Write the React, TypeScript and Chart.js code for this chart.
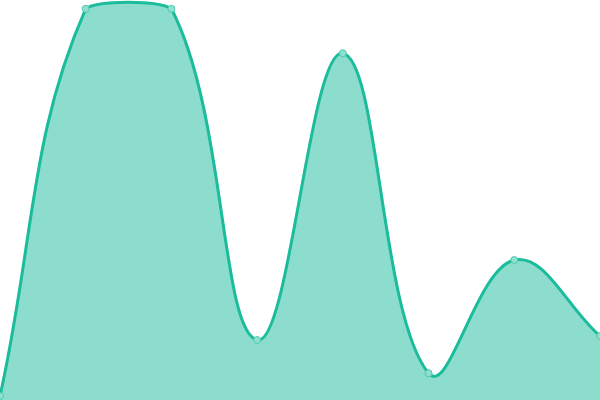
import { useEffect, useRef } from "react";
import { Chart, registerables } from "chart.js";
Chart.register(...registerables);

const labels = ["1", "2", "3", "4", "5", "6", "7", "8"];
const values = [1, 97.8, 97.8, 15, 86.7, 6.7, 35, 16];
const yMin = 0;
const yMax = 100;

export default function App() {
  const ref = useRef<HTMLCanvasElement>(null);
  const inst = useRef<Chart | null>(null);
  useEffect(() => {
    document.body.style.margin = "0";
    if (!ref.current) return;
    inst.current = new Chart(ref.current, {
      type: "line",
      data: {
        labels,
        datasets: [{
          data: values,
          fill: true,
          tension: 0.4,
          borderColor: "#1abc9c",
          backgroundColor: "rgba(26,188,156,0.5)",
          borderWidth: 3,
          pointRadius: 3.5,
          pointBorderWidth: 1,
          pointBackgroundColor: "#8ee0cf",
          pointBorderColor: "#4fc9ad",
        }],
      },
      options: {
        animation: false,
        responsive: true,
        maintainAspectRatio: false,
        layout: { padding: 0, autoPadding: false },
        plugins: { legend: { display: false }, tooltip: { enabled: false } },
        scales: {
          x: { display: false, offset: false },
          y: { display: false, min: yMin, max: yMax },
        },
      },
    });
    return () => inst.current?.destroy();
  }, []);
  return (
    <div style={{ width: 600, height: 400, position: "relative" }}>
      <canvas ref={ref} />
    </div>
  );
}
